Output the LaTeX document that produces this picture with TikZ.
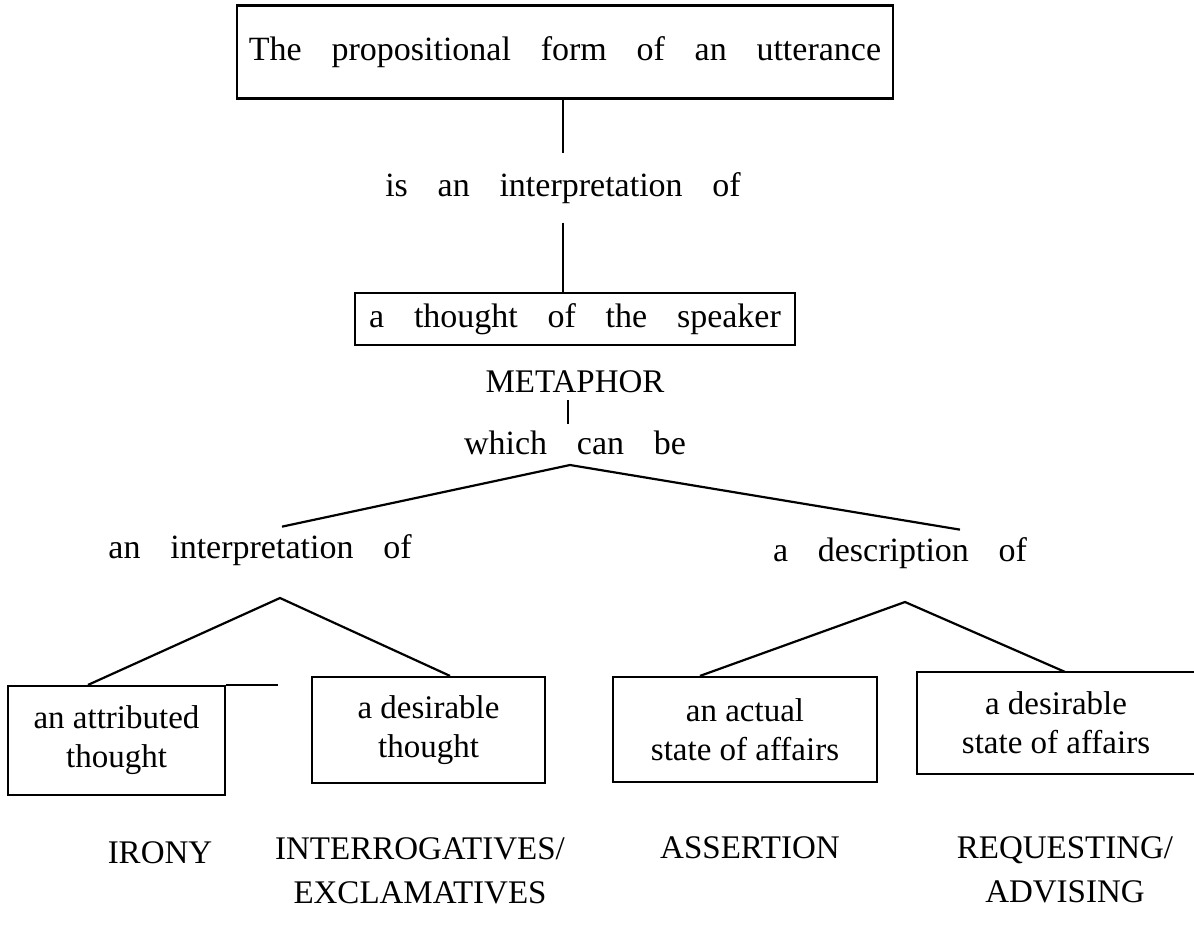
\documentclass[tikz,border=0pt]{standalone}
\usepackage{fontspec}
\setmainfont{Liberation Serif}
\newfontfamily\spacedfont{Liberation Serif}[WordSpace=3.5]
\usepackage{tikz}

\begin{document}
\begin{tikzpicture}[x=0.5pt,y=-0.5pt]
\useasboundingbox (0,0) rectangle (1194,926);
\begin{scope}[line width=1.1pt,
    spaced/.style={font=\spacedfont\fontsize{17}{20}\selectfont},
    box/.style={draw,align=center,inner sep=0pt,font=\fontsize{16.5}{19.5}\selectfont},
    act/.style={align=center,inner sep=1pt,font=\fontsize{16.5}{22}\selectfont}]

    \node[box,spaced,minimum width=328pt,minimum height=46.5pt] (utter) at (565,52)
        {The propositional form of an utterance};
    \node[spaced,inner ysep=9pt] (isint) at (563,188) {is an interpretation of};
    \draw (utter.south -| isint) -- (isint);

    \node[box,spaced,minimum width=220pt,minimum height=26pt] (thought) at (575,319)
        {a thought of the speaker};
    \draw (isint) -- (isint |- thought.north);

    \node[act,inner ysep=3pt] (metaphor) at (575,382) {METAPHOR};
    \node[spaced,inner ysep=3pt] (canbe) at (575,443) {which can be};
    \draw (metaphor.south -| 568,0) -- (canbe.north -| 568,0);

    \node[spaced] (interp) at (260,550) {an interpretation of};
    \node[spaced] (descr) at (900,553) {a description of};
    \coordinate (fork) at (570,465);
    \draw ([xshift=11pt]interp.north) -- (fork) -- ([xshift=30pt]descr.north);

    % the four kinds of thought
    \node[box,minimum width=108.5pt,minimum height=54.5pt] (attrib) at (116.5,740.5)
        {an attributed\\thought};
    \draw (attrib.north east) -- ++(52,0);
    \node[box,minimum width=116.5pt,minimum height=53pt] (desthought) at (428.5,730)
        {a desirable\\thought};
    \node[box,minimum width=132pt,minimum height=52.5pt] (actual) at (745,729.5)
        {an actual\\state of affairs};
    \node[box,draw=none,minimum width=138pt,minimum height=50pt] (desstate) at (1056,723)
        {a desirable\\state of affairs};
    \draw (desstate.north east) -- (desstate.north west) -- (desstate.south west)
        -- (desstate.south east);

    \coordinate (ifork) at (280,598);
    \draw (attrib.north -| 88,0) -- (ifork) -- (desthought.north -| 450,0);
    \coordinate (dfork) at (905,602);
    \draw (actual.north -| 700,0) -- (dfork) -- (desstate.north -| 1065,0);

    % what each one gives
    \node[act] (irony) at (160,853) {IRONY};
    \node[act] (interrog) at (420,871) {INTERROGATIVES/\\EXCLAMATIVES};
    \node[act] (assert) at (750,848) {ASSERTION};
    \node[act] (request) at (1065,870) {REQUESTING/\\ADVISING};

\end{scope}
\end{tikzpicture}
\end{document}
